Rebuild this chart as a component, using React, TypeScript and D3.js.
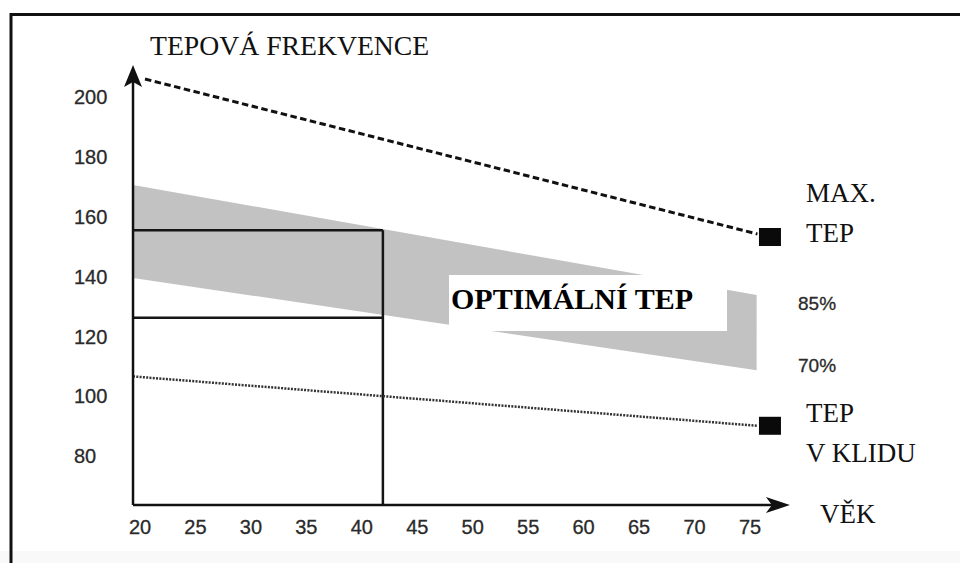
import * as d3 from "d3";

const W = 960;
const H = 563;

// ages on the x axis, heart rate on the y axis
const AGE_TICKS = [20, 25, 30, 35, 40, 45, 50, 55, 60, 65, 70, 75];
const HR_TICKS = [80, 100, 120, 140, 160, 180, 200];

const MAX_AGES = [20.45, 75.67];
const MAX_HR = [206, 154.2];
const REST_AGES = [19.37, 75.67];
const REST_HR = [106.6, 90.1];
const ZONE_AGES = [19.37, 75.6];
const ZONE_85 = [170.6, 133.8];
const ZONE_70 = [139.5, 108.7];
const MARKER_AGE = 76.8;
const MARKER_HR = [153.2, 90.1];
const EXAMPLE_AGE = 41.9;
const EXAMPLE_HR = [155.5, 126.2];
const AXIS_AGE = [19.37, 78.6];
const AXIS_HR = [63.6, 210.7];

const SERIF = "'Liberation Serif', 'Times New Roman', serif";
const SANS = "'Liberation Sans', Arial, sans-serif";

const App = () => {
  const x = d3.scaleLinear().domain([20, 75]).range([140, 750]);
  const y = d3.scaleLinear().domain([80, 200]).range([456, 97]);

  const x0 = x(AXIS_AGE[0]);
  const y0 = y(AXIS_HR[0]);
  const xEnd = x(AXIS_AGE[1]);
  const yEnd = y(AXIS_HR[1]);

  const line = d3
    .line<[number, number]>()
    .x((d) => x(d[0]))
    .y((d) => y(d[1]));

  const maxPath = line(MAX_AGES.map((a, i) => [a, MAX_HR[i]]));
  const restPath = line(REST_AGES.map((a, i) => [a, REST_HR[i]]));

  const zone = d3
    .area<number>()
    .x((a) => x(a))
    .y0((_, i) => y(ZONE_70[i]))
    .y1((_, i) => y(ZONE_85[i]));
  const zonePath = zone(ZONE_AGES);

  const exX = x(EXAMPLE_AGE);
  const mx = x(MARKER_AGE);

  // arrow heads
  const upArrow = `M${x0},${yEnd} L${x0 + 9},${yEnd + 22} L${x0},${yEnd + 17} L${x0 - 9},${yEnd + 22} Z`;
  const rightArrow = `M${xEnd},${y0} L${xEnd - 24},${y0 - 8} L${xEnd - 18},${y0} L${xEnd - 24},${y0 + 8} Z`;

  return (
    <svg width={W} height={H} style={{ position: "absolute", left: 0, top: 0, background: "#fff" }}>
      <rect x={0} y={551} width={W} height={12} fill="#f9f9f9" />
      {/* frame */}
      <line x1={10} x2={W} y1={14.5} y2={14.5} stroke="#111" strokeWidth={3} />
      <line x1={11} x2={11} y1={13} y2={H} stroke="#111" strokeWidth={3} />

      <text x={150} y={55} fontFamily={SERIF} fontSize={27.7} fill="#111">
        TEPOVÁ FREKVENCE
      </text>

      {/* optimal zone */}
      <path d={zonePath || ""} fill="#c2c2c2" stroke="none" />

      {/* example box for age 42 */}
      <g stroke="#151515" strokeWidth={2.5} fill="none">
        <line x1={x0} x2={exX} y1={y(EXAMPLE_HR[0])} y2={y(EXAMPLE_HR[0])} />
        <line x1={x0} x2={exX} y1={y(EXAMPLE_HR[1])} y2={y(EXAMPLE_HR[1])} />
        <line x1={exX} x2={exX} y1={y(EXAMPLE_HR[0])} y2={y0} />
      </g>

      {/* max and resting lines */}
      <path d={maxPath || ""} fill="none" stroke="#111" strokeWidth={3} strokeDasharray="6.5,3.5" />
      <path d={restPath || ""} fill="none" stroke="#333" strokeWidth={2.5} strokeDasharray="2,1.3" />
      {MARKER_HR.map((v) => (
        <rect key={v} x={mx - 11} y={y(v) - 9} width={22} height={18} fill="#0a0a0a" />
      ))}

      {/* axes */}
      <line x1={x0} x2={x0} y1={y0} y2={yEnd + 10} stroke="#111" strokeWidth={2.5} />
      <line x1={x0} x2={xEnd - 10} y1={y0} y2={y0} stroke="#111" strokeWidth={2.5} />
      <path d={upArrow} fill="#111" />
      <path d={rightArrow} fill="#111" />

      <g fontFamily={SANS} fontSize={20} fill="#2a2a2a" stroke="#2a2a2a" strokeWidth={0.3}>
        {HR_TICKS.map((t) => (
          <text key={t} x={74} y={y(t)} dy="0.36em">
            {t}
          </text>
        ))}
        {AGE_TICKS.map((t) => (
          <text key={t} x={x(t)} y={y0 + 29} textAnchor="middle">
            {t}
          </text>
        ))}
      </g>

      <g fontFamily={SANS} fontSize={19} fill="#2a2a2a" stroke="#2a2a2a" strokeWidth={0.3}>
        <text x={798} y={y(ZONE_85[1]) + 15}>85%</text>
        <text x={798} y={y(ZONE_70[1]) + 2}>70%</text>
      </g>

      <g fontFamily={SERIF} fontSize={27} fill="#111">
        <text x={806} y={y(MARKER_HR[0]) - 35}>MAX.</text>
        <text x={806} y={y(MARKER_HR[0]) + 5}>TEP</text>
        <text x={806} y={y(MARKER_HR[1]) - 4}>TEP</text>
        <text x={806} y={y(MARKER_HR[1]) + 36}>V KLIDU</text>
        <text x={xEnd + 30} y={y0 + 18}>VĚK</text>
      </g>

      {/* zone label */}
      <rect x={449} y={275} width={278} height={56} fill="#fff" />
      <text x={451} y={309} fontFamily={SERIF} fontSize={30} fontWeight="bold" fill="#000">
        OPTIMÁLNÍ TEP
      </text>
    </svg>
  );
};

export default App;
